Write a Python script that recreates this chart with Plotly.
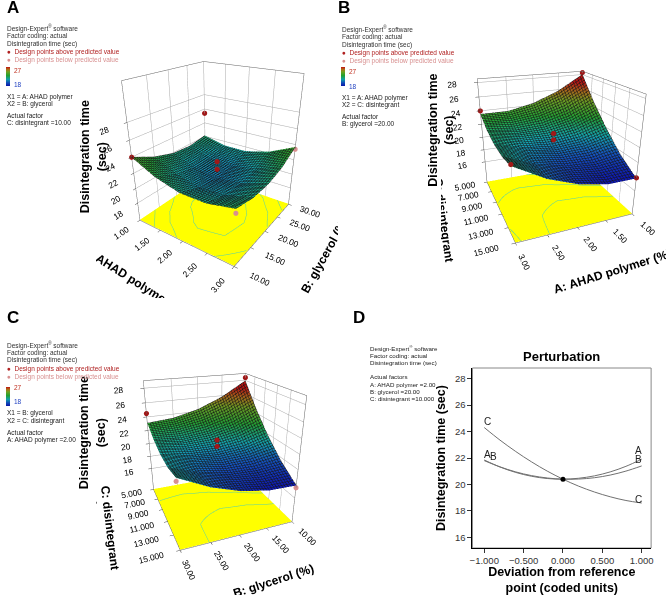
import numpy as np
import plotly.graph_objects as go

# ---------------- data ----------------
A_levels = [1.00, 1.50, 2.00, 2.50, 3.00]          # A: AHAD polymer (%)
B_levels = [10.0, 15.0, 20.0, 25.0, 30.0]          # B: glycerol (%)
C_levels = [5.0, 7.5, 10.0, 12.5, 15.0]            # C: disintegrant (%)

# Panel A surface: rows = B levels, cols = A levels (C = 10)
zA = [
    [24.0, 22.6, 21.8, 21.8, 22.5],
    [22.7, 21.4, 20.8, 21.0, 21.9],
    [21.9, 20.8, 20.4, 20.8, 21.9],
    [21.7, 20.8, 20.6, 21.2, 22.5],
    [22.1, 21.4, 21.4, 22.2, 23.7],
]
# Panel B surface: rows = C levels, cols = A levels (B = 20)
zB = [
    [28.0, 25.8, 24.3, 23.5, 23.5],
    [24.7, 23.0, 22.1, 21.9, 22.4],
    [21.9, 20.8, 20.4, 20.8, 21.9],
    [19.5, 19.0, 19.2, 20.2, 21.9],
    [17.8, 17.8, 18.6, 20.1, 22.4],
]
# Panel C surface: rows = C levels, cols = B levels (A = 2)
zC = [
    [27.9, 25.8, 24.3, 23.4, 23.1],
    [24.6, 23.0, 22.1, 21.7, 22.0],
    [21.8, 20.8, 20.4, 20.6, 21.4],
    [19.5, 19.1, 19.2, 20.0, 21.3],
    [17.8, 17.9, 18.6, 19.9, 21.8],
]

# design points (x, y, z, above predicted?)
ptsA_x = [1.0, 1.0, 3.0, 3.0, 2.0, 2.0]
ptsA_y = [10.0, 30.0, 30.0, 10.0, 20.0, 20.0]
ptsA_z = [24.0, 25.4, 23.4, 22.0, 22.6, 21.6]
ptsA_above = [True, True, False, False, True, True]

ptsB_x = [3.0, 1.0, 1.0, 3.0, 2.0, 2.0]
ptsB_y = [5.0, 5.0, 15.0, 15.0, 10.0, 10.0]
ptsB_z = [24.0, 28.3, 17.9, 22.6, 22.2, 21.3]
ptsB_above = [True, True, True, True, True, True]

ptsC_x = [30.0, 10.0, 10.0, 30.0, 20.0, 20.0]
ptsC_y = [5.0, 5.0, 15.0, 15.0, 10.0, 10.0]
ptsC_z = [24.5, 28.4, 17.5, 21.4, 22.2, 21.3]
ptsC_above = [True, True, False, False, True, True]

# Perturbation (panel D)
dev = [-1.0, -0.8, -0.6, -0.4, -0.2, 0.0, 0.2, 0.4, 0.6, 0.8, 1.0]
pertA = [21.85, 21.32, 20.91, 20.62, 20.45, 20.40, 20.47, 20.65, 20.95, 21.37, 21.91]
pertB = [21.80, 21.33, 20.95, 20.67, 20.49, 20.40, 20.41, 20.51, 20.71, 21.01, 21.40]
pertC = [24.30, 23.35, 22.49, 21.71, 21.01, 20.40, 19.87, 19.43, 19.07, 18.79, 18.60]

# ---------------- styling ----------------
W, H = 668, 595
FONT = "Liberation Sans"
CSCALE = [[0.0, '#0a14a8'], [0.18, '#1050b8'], [0.35, '#10a0a8'],
          [0.55, '#20a030'], [0.75, '#70a020'], [0.88, '#b06a18'], [1.0, '#c01010']]
RED = '#a01818'
PINK = '#d89090'


def px(x):
    return x / W


def py(y):
    return 1 - y / H


fig = go.Figure()


def add_panel(scene, xs, ys, zz, floor, levels, pts, xstep, ystep, cb_x, cb_y):
    zz = np.array(zz)
    fig.add_trace(go.Surface(
        x=xs, y=ys, z=zz, scene=scene, colorscale=CSCALE, cmin=18, cmax=27,
        showscale=True,
        colorbar=dict(x=px(cb_x), xanchor='left', y=py(cb_y), yanchor='middle',
                      len=19, lenmode='pixels', thickness=4, thicknessmode='pixels',
                      showticklabels=False, ticks='', outlinewidth=0, xpad=0, ypad=0),
        lighting=dict(ambient=0.75, diffuse=0.35, specular=0.05, roughness=0.9),
        contours=dict(
            x=dict(show=True, start=xs[0], end=xs[-1], size=xstep, color='#151515', width=1),
            y=dict(show=True, start=ys[0], end=ys[-1], size=ystep, color='#151515', width=1),
        ),
        hoverinfo='skip'))
    # floor: flat yellow plane carrying the projected contour levels
    eps = 0.004
    fz = floor + 0.06 + eps * (zz - 18)
    fig.add_trace(go.Surface(
        x=xs, y=ys, z=fz, scene=scene, surfacecolor=np.zeros_like(zz),
        colorscale=[[0, '#ffff00'], [1, '#ffff00']], showscale=False,
        lighting=dict(ambient=1, diffuse=0, specular=0, fresnel=0),
        contours=dict(z=dict(show=True, start=floor + 0.06 + eps * (levels[0] - 18),
                             end=floor + 0.06 + eps * (levels[-1] - 18) + 1e-6,
                             size=eps * (levels[1] - levels[0]), color='#50d0b0', width=1)),
        hoverinfo='skip'))
    x, y, z, above = pts
    fig.add_trace(go.Scatter3d(
        x=x, y=y, z=z, scene=scene, mode='markers',
        marker=dict(size=3, color=[RED if a else PINK for a in above]),
        hoverinfo='skip', showlegend=False))


add_panel('scene', A_levels, B_levels, zA, 15.5, [21, 22, 23, 24],
          (ptsA_x, ptsA_y, ptsA_z, ptsA_above), 0.05, 0.5, 3, 77)
add_panel('scene2', A_levels, C_levels, zB, 12.5, [20, 22, 24],
          (ptsB_x, ptsB_y, ptsB_z, ptsB_above), 0.05, 0.25, 341, 77)
add_panel('scene3', B_levels, C_levels, zC, 12.4, [20, 22, 24],
          (ptsC_x, ptsC_y, ptsC_z, ptsC_above), 0.5, 0.25, 3, 397)

# panel D
for yv, nm in [(pertA, 'A'), (pertB, 'B'), (pertC, 'C')]:
    fig.add_trace(go.Scatter(x=dev, y=yv, mode='lines', line=dict(color='#707070', width=1, shape='spline'),
                             xaxis='x', yaxis='y', showlegend=False, hoverinfo='skip'))
fig.add_trace(go.Scatter(x=[dev[5]], y=[pertA[5]], mode='markers', marker=dict(color='black', size=5),
                         xaxis='x', yaxis='y', showlegend=False, hoverinfo='skip'))


def ax3d(title, rng, tickvals, fmt, tsize=12):
    return dict(title=dict(text=title, font=dict(family=FONT, size=tsize, color='black', weight='bold')),
                range=rng, tickvals=tickvals, tickformat=fmt,
                tickfont=dict(family=FONT, size=10, color='black'),
                showgrid=True, gridcolor='#a8a8a8', gridwidth=1,
                showline=True, linecolor='#606060', mirror=True,
                showbackground=False, zeroline=False, showspikes=False, ticks='outside', ticklen=3)


fig.update_layout(
    width=W, height=H, margin=dict(l=0, r=0, t=0, b=0),
    paper_bgcolor='white', plot_bgcolor='white', showlegend=False,
    font=dict(family=FONT, color='black'),
    scene=dict(
        domain=dict(x=[0.14, 0.505], y=[0.5, 0.95]),
        xaxis=ax3d('A: AHAD polymer (%)', [1, 3], A_levels, '.2f'),
        yaxis=ax3d('B: glycerol (%)', [10, 30], B_levels, '.2f'),
        zaxis=ax3d('', [15.5, 32.3], [18, 20, 22, 24, 26, 28], 'd'),
        aspectmode='manual', aspectratio=dict(x=1, y=1, z=1.25),
        camera=dict(eye=dict(x=1.42, y=-2.06, z=1.15), center=dict(x=0, y=0, z=-0.12)),
    ),
    scene2=dict(
        domain=dict(x=[0.66, 1.0], y=[0.5, 0.962]),
        xaxis=ax3d('A: AHAD polymer (%)', [1, 3], A_levels, '.2f'),
        yaxis=ax3d('C: disintegrant<br>(%)', [5, 15], [5, 7, 9, 11, 13, 15], '.3f'),
        zaxis=ax3d('', [12.5, 28.5], [16, 18, 20, 22, 24, 26, 28], 'd'),
        aspectmode='manual', aspectratio=dict(x=1, y=1, z=1.0),
        camera=dict(eye=dict(x=0.97, y=2.4, z=1.05), center=dict(x=0, y=0, z=-0.14)),
    ),
    scene3=dict(
        domain=dict(x=[0.14, 0.505], y=[0.0, 0.45]),
        xaxis=ax3d('B: glycerol (%)', [10, 30], B_levels, '.2f'),
        yaxis=ax3d('C: disintegrant<br>(%)', [5, 15], [5, 7, 9, 11, 13, 15], '.3f'),
        zaxis=ax3d('', [12.4, 29], [16, 18, 20, 22, 24, 26, 28], 'd'),
        aspectmode='manual', aspectratio=dict(x=1, y=1, z=1.1),
        camera=dict(eye=dict(x=0.96, y=2.42, z=1.1), center=dict(x=0, y=0, z=-0.1)),
    ),
    xaxis=dict(domain=[px(473), px(653)], range=[-1.15, 1.12],
               tickvals=[-1, -0.5, 0, 0.5, 1], tickformat='.3f',
               ticks='outside', ticklen=4, tickcolor='#333333', showline=True, mirror=False,
               linecolor='black', linewidth=1,
               showgrid=False, zeroline=False, tickfont=dict(size=9.5, family=FONT, color='#333333'),
               title=dict(text='<b>Deviation from reference<br>point (coded units)</b>',
                          font=dict(size=12.5, family=FONT), standoff=3),
               anchor='y'),
    yaxis=dict(domain=[py(548), py(368)], range=[15.2, 28.8],
               tickvals=[16, 18, 20, 22, 24, 26, 28], ticks='outside', ticklen=4, tickcolor='#333333',
               showline=True, mirror=False, linecolor='black', linewidth=1,
               showgrid=False, zeroline=False, tickfont=dict(size=9.5, family=FONT, color='#333333'),
               title=dict(text='<b>Disintegration time (sec)</b>', font=dict(size=12.5, family=FONT), standoff=6),
               anchor='x'),
    shapes=[dict(type='rect', xref='x domain', yref='y domain', x0=0, x1=1, y0=0, y1=1,
                 line=dict(color='#888888', width=1), layer='below')],
)

ann = []


def txt(x, y, s, size=6.5, color='#202020', bold=False, xanchor='left', angle=0):
    ann.append(dict(x=px(x), y=py(y), xref='paper', yref='paper', text=('<b>%s</b>' % s) if bold else s,
                    showarrow=False, xanchor=xanchor, yanchor='middle', textangle=angle,
                    font=dict(family=FONT, size=size, color=color)))


# panel letters
txt(2, 8, 'A', size=17, color='black', bold=True)
txt(336, 8, 'B', size=17, color='black', bold=True)
txt(2, 317, 'C', size=17, color='black', bold=True)
txt(351, 317, 'D', size=17, color='black', bold=True)

# z-axis titles of the 3D panels
txt(91, 157, 'Disintegration time<br>(sec)', size=12.5, color='black', bold=True, xanchor='center', angle=-90)
txt(441, 130, 'Disintegration time<br>(sec)', size=12.5, color='black', bold=True, xanchor='center', angle=-90)
txt(90, 433, 'Disintegration time<br>(sec)', size=12.5, color='black', bold=True, xanchor='center', angle=-90)


def info_block(x0, y0, x1lab, x2lab, factor_line):
    lines = [(0, 'Design-Expert<sup>®</sup> software', '#303030'),
             (7.7, 'Factor coding: actual', '#303030'),
             (15.4, 'Disintegration time (sec)', '#303030'),
             (24, '●  Design points above predicted value', '#b02020'),
             (31.7, '●  Design points below predicted value', '#d89090')]
    for dy, s, c in lines:
        txt(x0, y0 + dy, s, color=c)
    txt(x0 + 7, y0 + 42.4, '27', color='#c03020')
    txt(x0 + 7, y0 + 56.7, '18', color='#2040c0')
    txt(x0, y0 + 68.4, x1lab)
    txt(x0, y0 + 76, x2lab)
    txt(x0, y0 + 87.4, 'Actual factor')
    txt(x0, y0 + 95, factor_line)


info_block(2, 28.3, 'X1 = A: AHAD polymer', 'X2 = B: glycerol', 'C: disintegrant =10.00')
info_block(340, 29.3, 'X1 = A: AHAD polymer', 'X2 = C: disintegrant', 'B: glycerol =20.00')
info_block(2, 345, 'X1 = B: glycerol', 'X2 = C: disintegrant', 'A: AHAD polymer =2.00')

# panel D info
for dy, s in [(0, 'Design-Expert<sup>®</sup> software'), (7.3, 'Factor coding: actual'),
              (14.6, 'Disintegration time (sec)'), (29, 'Actual factors'),
              (36.3, 'A: AHAD polymer =2.00'), (43.6, 'B: glycerol =20.00'),
              (50.9, 'C: disintegrant =10.000')]:
    txt(368, 347.7 + dy, s, size=6.2)

# perturbation title and curve labels
ann.append(dict(x=0.5, y=1.0, xref='x domain', yref='y domain', text='<b>Perturbation</b>', showarrow=False,
                xanchor='center', yanchor='bottom', yshift=2, font=dict(size=13, family=FONT, color='black')))
for xx, yy, s in [(-0.96, 24.75, 'C'), (-0.965, 22.25, 'A'), (-0.885, 22.15, 'B'),
                  (0.96, 22.6, 'A'), (0.96, 21.9, 'B'), (0.96, 18.9, 'C')]:
    ann.append(dict(x=xx, y=yy, xref='x', yref='y', text=s, showarrow=False,
                    font=dict(size=10, family=FONT, color='#222222')))

fig.update_layout(annotations=ann)
fig.write_html("out.html", config={'displayModeBar': False},
               post_script="document.body.style.margin='0px';document.body.style.overflow='hidden';")
